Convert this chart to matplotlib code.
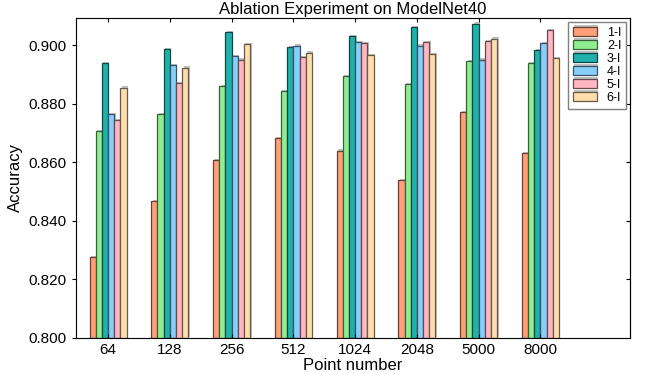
import matplotlib
matplotlib.use("Agg")
import matplotlib.pyplot as plt
import matplotlib.colors as mcolors
import matplotlib.patheffects as pe
import numpy as np

plt.rcParams["font.family"] = ["Liberation Sans", "DejaVu Sans"]

point_numbers = ["64", "128", "256", "512", "1024", "2048", "5000", "8000"]
series_labels = ["1-I", "2-I", "3-I", "4-I", "5-I", "6-I"]

acc_1 = [0.8276, 0.8467, 0.8607, 0.8683, 0.8640, 0.8540, 0.8771, 0.8631]
acc_2 = [0.8707, 0.8764, 0.8860, 0.8843, 0.8895, 0.8867, 0.8946, 0.8939]
acc_3 = [0.8938, 0.8987, 0.9045, 0.8994, 0.9031, 0.9062, 0.9073, 0.8984]
acc_4 = [0.8764, 0.8931, 0.8963, 0.8998, 0.9011, 0.8998, 0.8950, 0.9006]
acc_5 = [0.8744, 0.8871, 0.8950, 0.8960, 0.9007, 0.9011, 0.9014, 0.9051]
acc_6 = [0.8855, 0.8923, 0.9003, 0.8974, 0.8966, 0.8970, 0.9022, 0.8955]

colors = ["lightsalmon", "lightgreen", "lightseagreen", "lightskyblue", "lightpink", "navajowhite"]


def darker(c, f=0.4):
    r, g, b = mcolors.to_rgb(c)
    return (r * f, g * f, b * f)


def main():
    series = [acc_1, acc_2, acc_3, acc_4, acc_5, acc_6]
    x = np.arange(len(point_numbers))
    width = 0.1

    fig = plt.figure(figsize=(6.46, 3.74), dpi=100)
    ax = fig.add_axes([0.1176, 0.0963, 0.8576, 0.8556])

    shadow = [pe.SimplePatchShadow(offset=(1, 1), shadow_rgbFace="gray", alpha=0.5), pe.Normal()]
    for i, vals in enumerate(series):
        bars = ax.bar(x + (i - 2.5) * width, np.array(vals) - 0.8, width, bottom=0.8,
                      color=colors[i], edgecolor=darker(colors[i]), linewidth=0.9,
                      label=series_labels[i])
        for b in bars:
            b.set_path_effects(shadow)

    ax.set_xlim(-0.52, 8.45)
    ax.set_ylim(0.8, 0.9093)
    ax.set_xticks(x)
    ax.set_xticklabels(point_numbers, fontsize=11)
    yt = np.arange(0.80, 0.901, 0.02)
    ax.set_yticks(yt)
    ax.set_yticklabels(["%.3f" % v for v in yt], fontsize=11)
    ax.tick_params(axis="x", direction="in", top=True, length=3)
    ax.tick_params(axis="y", direction="out", length=3)
    sec = ax.secondary_yaxis("right")
    sec.set_yticks(yt)
    sec.tick_params(direction="in", length=3, labelright=False)

    ax.set_title("Ablation Experiment on ModelNet40", fontsize=12, pad=3)
    ax.set_xlabel("Point number", fontsize=12, labelpad=1)
    ax.set_ylabel("Accuracy", fontsize=12)

    leg = ax.legend(loc="upper right", fontsize=9, fancybox=False, framealpha=1,
                    handlelength=1.9, handleheight=0.75, labelspacing=0.08,
                    borderpad=0.4, handletextpad=0.8, borderaxespad=0.3)
    leg.get_frame().set_edgecolor("gray")

    fig.savefig("out.png", dpi=100)


if __name__ == "__main__":
    main()
